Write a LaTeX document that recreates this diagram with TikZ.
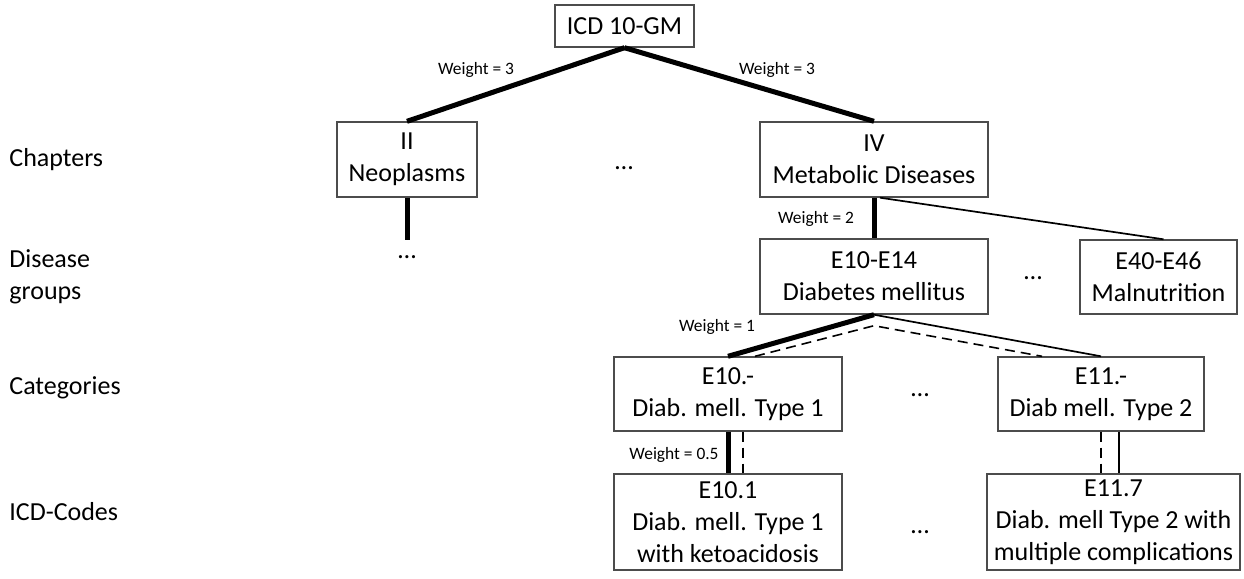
\documentclass[tikz,border=0pt]{standalone}
\usepackage{fontspec}
\setmainfont{Carlito}
\usetikzlibrary{positioning,calc}

\tikzset{
  box/.style={draw=black!70, line width=0.7pt, align=center, inner sep=0pt,
    font=\fontsize{13}{16}\selectfont},
  heavy/.style={line width=2.5pt},
  light/.style={line width=0.85pt},
  simpath/.style={dash pattern=on 5pt off 3pt, line width=0.8pt},
  wlabel/.style={font=\fontsize{8.7}{10}\selectfont, inner sep=0pt},
  rowname/.style={anchor=west, align=left, inner sep=0pt,
    font=\fontsize{13}{16}\selectfont},
}

\begin{document}
\begin{tikzpicture}[x=0.5pt,y=-0.5pt]
    \useasboundingbox (0,0) rectangle (1244,579);

    % hierarchy levels
    \node[rowname] (lchap) at (9,160) {Chapters};
    \node[rowname] (lgroup) at (9,277) {Disease\\groups};
    \node[rowname] (lcat) at (9,388) {Categories};
    \node[rowname] (lcode) at (9,512) {ICD-Codes};

    % boxes
    \node[box, minimum width=69.5pt, minimum height=21pt] (icd) at (624.5,26) {ICD 10-GM};
    \node[box, minimum width=70pt, minimum height=37.5pt] (neo) at (407,159.5) {II\\Neoplasms};
    \node[box, minimum width=114pt, minimum height=37.5pt] (meta) at (874,159.5) {IV\\Metabolic Diseases};
    \node[box, minimum width=114pt, minimum height=37.5pt] (diab) at (874,276.5) {E10-E14\\Diabetes mellitus};
    \node[box, minimum width=78.5pt, minimum height=37pt] (maln) at (1158.5,277) {E40-E46\\Malnutrition};
    \node[box, minimum width=114pt, minimum height=37pt] (tone) at (728,394) {E10.-\\Diab. mell. Type 1};
    \node[box, minimum width=103pt, minimum height=37pt] (ttwo) at (1101,394) {E11.-\\Diab mell. Type 2};
    \node[box, minimum width=114pt, minimum height=48pt] (keto) at (728,522) {E10.1\\Diab. mell. Type 1\\with ketoacidosis};
    \node[box, minimum width=126.5pt, minimum height=48pt] (multi) at (1113.5,522) {E11.7\\Diab. mell Type 2 with\\multiple complications};

    % omitted siblings
    \foreach \px/\py [count=\i] in {624/169, 407/258, 1033/279, 920/396, 920/533} {
        \node[anchor=base, inner sep=0pt, font=\fontsize{13}{16}\selectfont] (dots\i) at (\px,\py) {…};
    }

    % edges
    \coordinate (neoend) at (407,240);
    \coordinate (apex) at ([yshift=-5.5pt]diab.south);
    \draw[heavy] (icd.south) -- (neo.north);
    \draw[heavy] (icd.south) -- (meta.north);
    \draw[heavy] (neo.south) -- (neoend);
    \draw[heavy] (meta.south) -- (diab.north);
    \draw[light] ([xshift=3pt]meta.south) -- ([xshift=2.5pt]maln.north);
    \draw[heavy] (diab.south) -- (tone.north);
    \draw[light] (diab.south) -- (ttwo.north);
    \draw[heavy] (tone.south) -- (tone.south |- keto.north);
    \draw[light] ([xshift=9pt]ttwo.south) -- ([xshift=9pt]ttwo.south |- multi.north);

    % path between the two codes
    \draw[simpath] ([xshift=7.5pt]tone.south) -- ([xshift=7.5pt]tone.south |- keto.north);
    \draw[simpath] ([xshift=13.5pt]tone.north) -- (apex) -- ([xshift=-29.5pt]ttwo.north);
    \draw[simpath] (ttwo.south) -- (ttwo.south |- multi.north);

    % weights
    \node[wlabel] (w3a) at (476,70) {Weight = 3};
    \node[wlabel] (w3b) at (777,70) {Weight = 3};
    \node[wlabel] (w2) at (816,219) {Weight = 2};
    \node[wlabel] (w1) at (717,327) {Weight = 1};
    \node[wlabel] (w05) at (674,455) {Weight = 0.5};
\end{tikzpicture}
\end{document}
